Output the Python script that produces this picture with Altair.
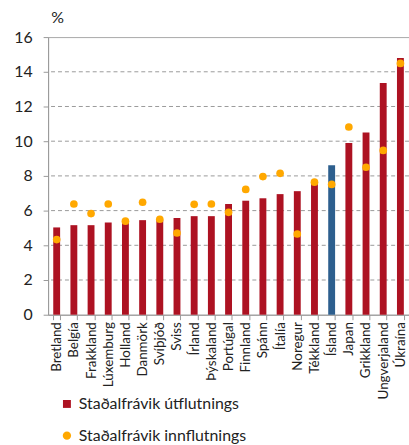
import altair as alt
import pandas as pd

# Standard deviation of exports / imports by country (%)
lond = ["Bretland", "Belgía", "Frakkland", "Lúxemburg", "Holland", "Danmörk",
        "Svíþjóð", "Sviss", "Írland", "Þýskaland", "Portúgal", "Finnland",
        "Spánn", "Ítalía", "Noregur", "Tékkland", "Ísland", "Japan",
        "Grikkland", "Ungverjaland", "Úkraína"]
utflutningur = [5.03, 5.16, 5.16, 5.31, 5.35, 5.45, 5.45, 5.58, 5.68, 5.68,
                6.38, 6.57, 6.71, 6.95, 7.12, 7.55, 8.61, 9.89, 10.5, 13.35,
                14.8]
innflutningur = [4.33, 6.38, 5.83, 6.38, 5.39, 6.48, 5.5, 4.71, 6.36, 6.38,
                 5.9, 7.22, 7.96, 8.15, 4.65, 7.64, 7.51, 10.82, 8.5, 9.47,
                 14.48]
y_ticks = [0, 2, 4, 6, 8, 10, 12, 14, 16]
grid_levels = [2, 4, 6, 8, 10, 12, 14]

LABEL_UT = "Staðalfrávik útflutnings"
LABEL_INN = "Staðalfrávik innflutnings"
RED = "#AD1222"
BLUE = "#2D5F8E"
ORANGE = "#FFA800"
FONT = "Lato"

df = pd.DataFrame({
    "land": lond,
    "ut": utflutningur,
    "inn": innflutningur,
    "s_ut": LABEL_UT,
    "s_inn": LABEL_INN,
})
grid_df = pd.DataFrame({"level": grid_levels})

x_enc = alt.X("land:N", sort=lond, title=None,
              scale=alt.Scale(paddingInner=0.6, paddingOuter=0.3))

y_scale = alt.Scale(domain=[0, 16], nice=False)

legend_common = dict(title=None, orient="none", labelFont=FONT,
                     labelFontSize=16, labelColor="#222", labelOffset=4,
                     labelLimit=400, padding=0)

# dashed horizontal guide lines
grid = alt.Chart(grid_df).mark_rule(
    color="#9a9a9a", strokeWidth=1, strokeDash=[4, 3]
).encode(y=alt.Y("level:Q", scale=y_scale, title="%",
                 axis=alt.Axis(values=y_ticks, labelOverlap=False,
                               labelBound=False, tickCount=9,
                               grid=False)))

bars = alt.Chart(df).mark_bar().encode(
    x=x_enc,
    y=alt.Y("ut:Q", scale=y_scale, title="%"),
    color=alt.condition(
        alt.datum.land == "Ísland",
        alt.value(BLUE),
        alt.Color("s_ut:N",
                  scale=alt.Scale(domain=[LABEL_UT], range=[RED]),
                  legend=alt.Legend(legendX=11, legendY=362,
                                    symbolType="square", symbolSize=64,
                                    **legend_common)),
    ),
)

points = alt.Chart(df).mark_circle(size=60, opacity=1).encode(
    x=alt.X("land:N", sort=lond),
    y=alt.Y("inn:Q", scale=y_scale),
    color=alt.Color("s_inn:N",
                    scale=alt.Scale(domain=[LABEL_INN], range=[ORANGE]),
                    legend=alt.Legend(legendX=11, legendY=394,
                                      symbolType="circle", symbolSize=70,
                                      **legend_common)),
)

chart = (
    alt.layer(grid, bars, points)
    .resolve_scale(color="independent")
    .resolve_legend(color="independent")
    .properties(
        width=364, height=280,
        background="white",
        autosize=alt.AutoSizeParams(type="none"),
        padding={"left": 48.5, "top": 35.5, "right": 0, "bottom": 129.5},
    )
    .configure_view(stroke="#a8a8a8", strokeWidth=1)
    .configure_axisX(grid=False, labelAngle=-90, labelFontSize=13.5,
                     labelColor="#222", labelFont=FONT, labelPadding=2,
                     tickBand="extent", tickSize=5, tickColor="#999",
                     domainColor="#999", labelAlign="right",
                     labelBaseline="middle", labelOverlap=False)
    .configure_axisY(labelFontSize=16, labelColor="#222", labelFont=FONT,
                     labelPadding=11, tickSize=5, tickColor="#999",
                     domainColor="#999", labelOverlap=False,
                     grid=False,
                     titleAngle=0, titleX=9, titleY=-20,
                     titleAlign="center", titleBaseline="middle",
                     titleFont=FONT, titleFontSize=16,
                     titleFontWeight="normal", titleColor="#222")
)

chart.save("out.html", embed_options={"renderer": "svg", "actions": False})
